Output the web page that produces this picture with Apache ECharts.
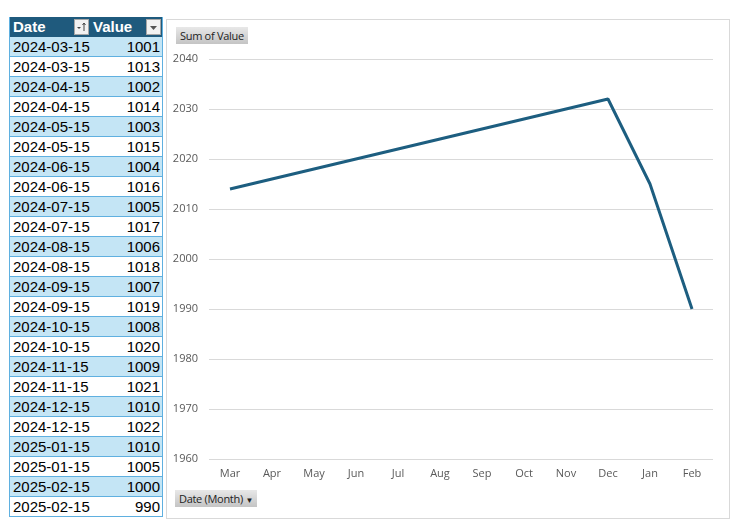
<!DOCTYPE html>
<html><head><meta charset="utf-8">
<script src="https://cdn.jsdelivr.net/npm/echarts@6/dist/echarts.min.js"></script>
<style>
html,body{margin:0;padding:0;background:#fff;width:738px;height:527px;overflow:hidden;}
#tbl{position:absolute;left:9px;top:17px;width:154px;font-family:"Liberation Sans",Arial,sans-serif;font-size:15px;border-left:1px solid #5fb0e0;border-right:1px solid #5fb0e0;box-sizing:border-box;}
.r{position:relative;height:20px;box-sizing:border-box;border-bottom:1px solid #5fb0e0;line-height:19px;white-space:nowrap;color:#000;}
.r.h{background:#1f5a7d;color:#fff;font-weight:bold;border-bottom:1px solid #1f5a7d;}
.r.a{background:#c4e5f5;}
.r.b{background:#fff;}
.c1{position:absolute;left:3px;top:0;}
.c2{position:absolute;right:2px;top:0;}
.c2h{position:absolute;left:83px;top:0;}
.fb{position:absolute;width:13px;height:14px;background:#f2f2f2;border:1px solid #a6a6a6;}
#frame{position:absolute;left:166px;top:19px;width:562px;height:498px;border:1px solid #d9d9d9;}
#chart{position:absolute;left:0;top:0;width:738px;height:527px;}
.btn{position:absolute;height:17px;line-height:17px;font-family:"Open Sans","Liberation Sans",sans-serif;font-size:11px;color:#222;background:linear-gradient(#e8e8e8,#c4c4c4);padding:0 4px;letter-spacing:-0.3px;}
</style></head>
<body>
<div id="frame"></div>
<div id="tbl"></div>
<div id="chart"></div>
<div class="btn" style="left:176px;top:27px;">Sum of Value</div>
<div class="btn" style="left:175px;top:490px;">Date (Month) <span style="font-size:8px;">&#9660;</span></div>
<script>
var tableDates = ["2024-03-15","2024-03-15","2024-04-15","2024-04-15","2024-05-15","2024-05-15","2024-06-15","2024-06-15","2024-07-15","2024-07-15","2024-08-15","2024-08-15","2024-09-15","2024-09-15","2024-10-15","2024-10-15","2024-11-15","2024-11-15","2024-12-15","2024-12-15","2025-01-15","2025-01-15","2025-02-15","2025-02-15"];
var tableValues = [1001,1013,1002,1014,1003,1015,1004,1016,1005,1017,1006,1018,1007,1019,1008,1020,1009,1021,1010,1022,1010,1005,1000,990];
var months = ["Mar","Apr","May","Jun","Jul","Aug","Sep","Oct","Nov","Dec","Jan","Feb"];
var sumValues = [2014,2016,2018,2020,2022,2024,2026,2028,2030,2032,2015,1990];

var tbl = document.getElementById('tbl');
var html = '<div class="r h"><span class="c1">Date</span><span class="c2h">Value</span></div>';
for (var i = 0; i < tableDates.length; i++) {
  html += '<div class="r ' + (i % 2 === 0 ? 'a' : 'b') + '"><span class="c1">' + tableDates[i] + '</span><span class="c2">' + tableValues[i] + '</span></div>';
}
tbl.innerHTML = html;
var b1 = document.createElement('div'); b1.className='fb'; b1.style.left='74px'; b1.style.top='19px';
b1.innerHTML='<svg width="13" height="14"><path d="M2 7 L6 7 L4 9 Z" fill="#444"/><line x1="9" y1="3" x2="9" y2="11" stroke="#444"/><path d="M7.5 5 L9 3 L10.5 5" fill="none" stroke="#444"/></svg>';
document.body.appendChild(b1);
var b2 = document.createElement('div'); b2.className='fb'; b2.style.left='146px'; b2.style.top='19px';
b2.innerHTML='<svg width="13" height="14"><path d="M3 6 L10 6 L6.5 10 Z" fill="#555"/></svg>';
document.body.appendChild(b2);

var chart = echarts.init(document.getElementById('chart'));
chart.setOption({
  animation: false,
  grid: {left: 209, right: 25, top: 59, bottom: 68, containLabel: false},
  xAxis: {
    type: 'category', data: months, boundaryGap: true,
    axisLine: {show: false}, axisTick: {show: false},
    axisLabel: {color: '#595959', fontSize: 11, fontFamily: 'Open Sans', margin: 9}
  },
  yAxis: {
    type: 'value', min: 1960, max: 2040, interval: 10,
    axisLine: {show: false}, axisTick: {show: false},
    axisLabel: {color: '#595959', fontSize: 11, fontFamily: 'Open Sans', margin: 11, formatter: function (v) { return String(v); }},
    splitLine: {lineStyle: {color: '#d9d9d9', width: 1}}
  },
  series: [{
    type: 'line', data: sumValues, showSymbol: false, symbol: 'none',
    lineStyle: {color: '#1d5e80', width: 3}
  }]
});
</script>
</body></html>
